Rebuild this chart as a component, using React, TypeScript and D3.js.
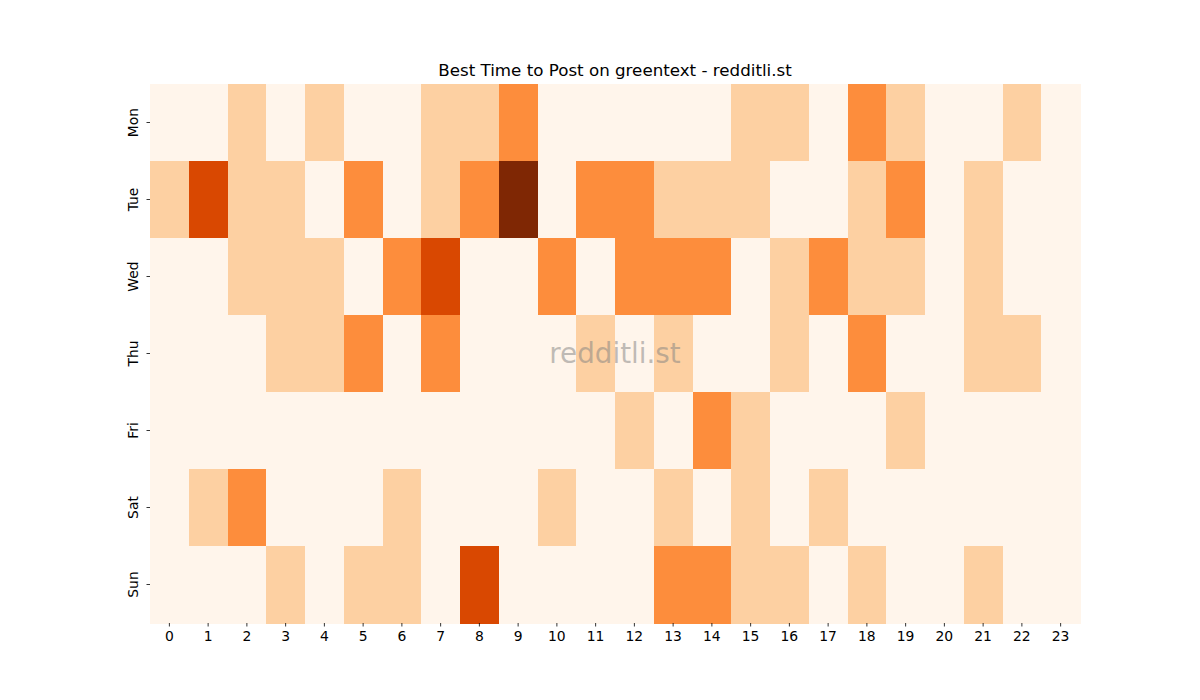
import React from "react";
import * as d3 from "d3";

const days = ["Mon", "Tue", "Wed", "Thu", "Fri", "Sat", "Sun"];
const hours = d3.range(24).map(String);

const mon = [0,0,1,0,1,0,0,1,1,2,0,0,0,0,0,1,1,0,2,1,0,0,1,0];
const tue = [1,3,1,1,0,2,0,1,2,4,0,2,2,1,1,1,0,0,1,2,0,1,0,0];
const wed = [0,0,1,1,1,0,2,3,0,0,2,0,2,2,2,0,1,2,1,1,0,1,0,0];
const thu = [0,0,0,1,1,2,0,2,0,0,0,1,0,1,0,0,1,0,2,0,0,1,1,0];
const fri = [0,0,0,0,0,0,0,0,0,0,0,0,1,0,2,1,0,0,0,1,0,0,0,0];
const sat = [0,1,2,0,0,0,1,0,0,0,1,0,0,1,0,1,0,1,0,0,0,0,0,0];
const sun = [0,0,0,1,0,1,1,0,3,0,0,0,0,2,2,1,1,0,1,0,0,1,0,0];

const rows = [mon, tue, wed, thu, fri, sat, sun];
const levelColors = ["#fff5eb", "#fdd0a2", "#fd8d3c", "#d94801", "#7f2704"];

const W = 1200, H = 700;
const left = 150, right = 1080, top = 84, bottom = 623;

export default function App() {
  const x = d3.scaleBand<string>().domain(hours).range([left, right]);
  const y = d3.scaleBand<string>().domain(days).range([top, bottom]);
  const color = d3.scaleOrdinal<number, string>().domain([0, 1, 2, 3, 4]).range(levelColors);
  const font = "'DejaVu Sans', sans-serif";
  return (
    <svg width={W} height={H} style={{ display: "block", position: "absolute", left: 0, top: 0 }}>
      <rect width={W} height={H} fill="#fff" />
      {rows.map((r, i) =>
        r.map((v, j) => (
          <rect
            key={`${i}-${j}`}
            x={x(hours[j])!}
            y={y(days[i])!}
            width={x.bandwidth() + 0.5}
            height={y.bandwidth() + 0.5}
            fill={color(v)}
            shapeRendering="crispEdges"
          />
        ))
      )}
      {hours.map((h) => {
        const cx = x(h)! + x.bandwidth() / 2;
        return (
          <g key={h}>
            <line x1={cx} x2={cx} y1={bottom} y2={bottom + 3.5} stroke="#000" strokeWidth={0.8} />
            <text x={cx} y={bottom + 18} textAnchor="middle" fontFamily={font} fontSize={13.9}>{h}</text>
          </g>
        );
      })}
      {days.map((d) => {
        const cy = y(d)! + y.bandwidth() / 2;
        return (
          <g key={d}>
            <line x1={left - 3.5} x2={left} y1={cy} y2={cy} stroke="#000" strokeWidth={0.8} />
            <text
              transform={`translate(${left - 12},${cy}) rotate(-90)`}
              textAnchor="middle"
              fontFamily={font}
              fontSize={13.9}
            >
              {d}
            </text>
          </g>
        );
      })}
      <text x={(left + right) / 2} y={76} textAnchor="middle" fontFamily={font} fontSize={16.7}>
        Best Time to Post on greentext - redditli.st
      </text>
      <text
        x={(left + right) / 2}
        y={(top + bottom) / 2 + 9.5}
        textAnchor="middle"
        fontFamily={font}
        fontSize={27.8}
        fill="#808080"
        fillOpacity={0.5}
      >
        redditli.st
      </text>
    </svg>
  );
}
